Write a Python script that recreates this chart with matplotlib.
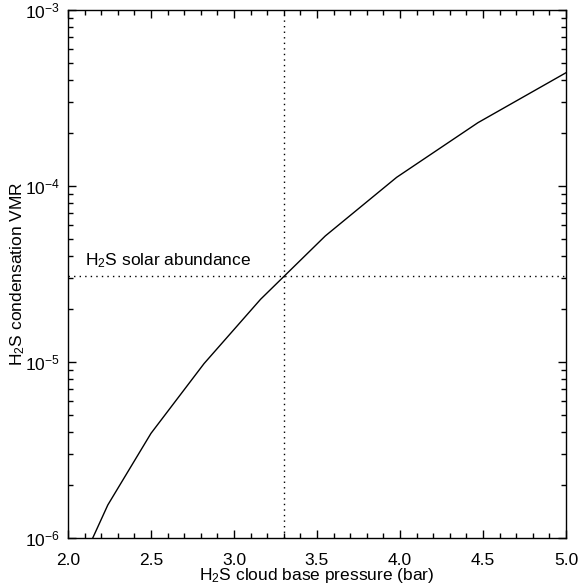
import matplotlib
matplotlib.use("Agg")
import matplotlib.pyplot as plt
from matplotlib.ticker import FixedLocator, MultipleLocator, LogLocator, NullFormatter

# ---------- DATA ----------
pressure_bar = [2.12, 2.24, 2.50, 2.82, 3.16, 3.55, 3.98, 4.47, 5.00]
h2s_vmr = [8.7e-7, 1.54e-6, 3.93e-6, 9.8e-6, 2.27e-5, 5.2e-5, 1.12e-4, 2.29e-4, 4.4e-4]
solar_vmr = 3.1e-5
cloud_base_bar = 3.3
x_ticks = [2.0, 2.5, 3.0, 3.5, 4.0, 4.5, 5.0]
y_ticks = [1e-6, 1e-5, 1e-4, 1e-3]
y_ticklabels = ["10$^{-6}$", "10$^{-5}$", "10$^{-4}$", "10$^{-3}$"]

# ---------- STYLE ----------
plt.rcParams["font.family"] = ["Liberation Sans", "DejaVu Sans"]
plt.rcParams["mathtext.fontset"] = "custom"
plt.rcParams["mathtext.rm"] = "Liberation Sans"
plt.rcParams["mathtext.it"] = "Liberation Sans:italic"
plt.rcParams["mathtext.bf"] = "Liberation Sans:bold"
FS = 12.5

fig = plt.figure(figsize=(5.79, 5.84), dpi=100)
ax = fig.add_axes([0.1174, 0.0788, 0.8601, 0.9041])

ax.plot(pressure_bar, h2s_vmr, color="black", lw=1.0)
ax.axvline(cloud_base_bar, color="black", lw=1.0, ls=(0, (1, 3)))
ax.axhline(solar_vmr, color="black", lw=1.0, ls=(0, (1, 3)))
ax.annotate("H$_2$S solar abundance", xy=(2.10, solar_vmr), xytext=(0, 4),
            textcoords="offset points", fontsize=FS, ha="left", va="bottom")

ax.set_yscale("log")
ax.set_xlim(2.0, 5.0)
ax.set_ylim(1e-6, 1e-3)

ax.xaxis.set_major_locator(FixedLocator(x_ticks))
ax.xaxis.set_minor_locator(MultipleLocator(0.1))
ax.set_xticklabels([f"{v:.1f}" for v in x_ticks])
ax.yaxis.set_major_locator(FixedLocator(y_ticks))
ax.set_yticklabels(y_ticklabels)
ax.yaxis.set_minor_locator(LogLocator(base=10, subs=range(2, 10)))
ax.yaxis.set_minor_formatter(NullFormatter())

ax.tick_params(which="both", direction="in", top=True, right=True,
               labelsize=FS, width=1.0)
ax.tick_params(which="major", length=6)
ax.tick_params(which="minor", length=3.5)
ax.tick_params(axis="x", which="major", pad=10.5)
ax.tick_params(axis="y", which="major", pad=6)
for sp in ax.spines.values():
    sp.set_linewidth(1.0)

ax.set_xlabel("H$_2$S cloud base pressure (bar)", fontsize=FS, labelpad=-1)
ax.set_ylabel("H$_2$S condensation VMR", fontsize=FS, labelpad=-2)

fig.savefig("out.png", dpi=100)
